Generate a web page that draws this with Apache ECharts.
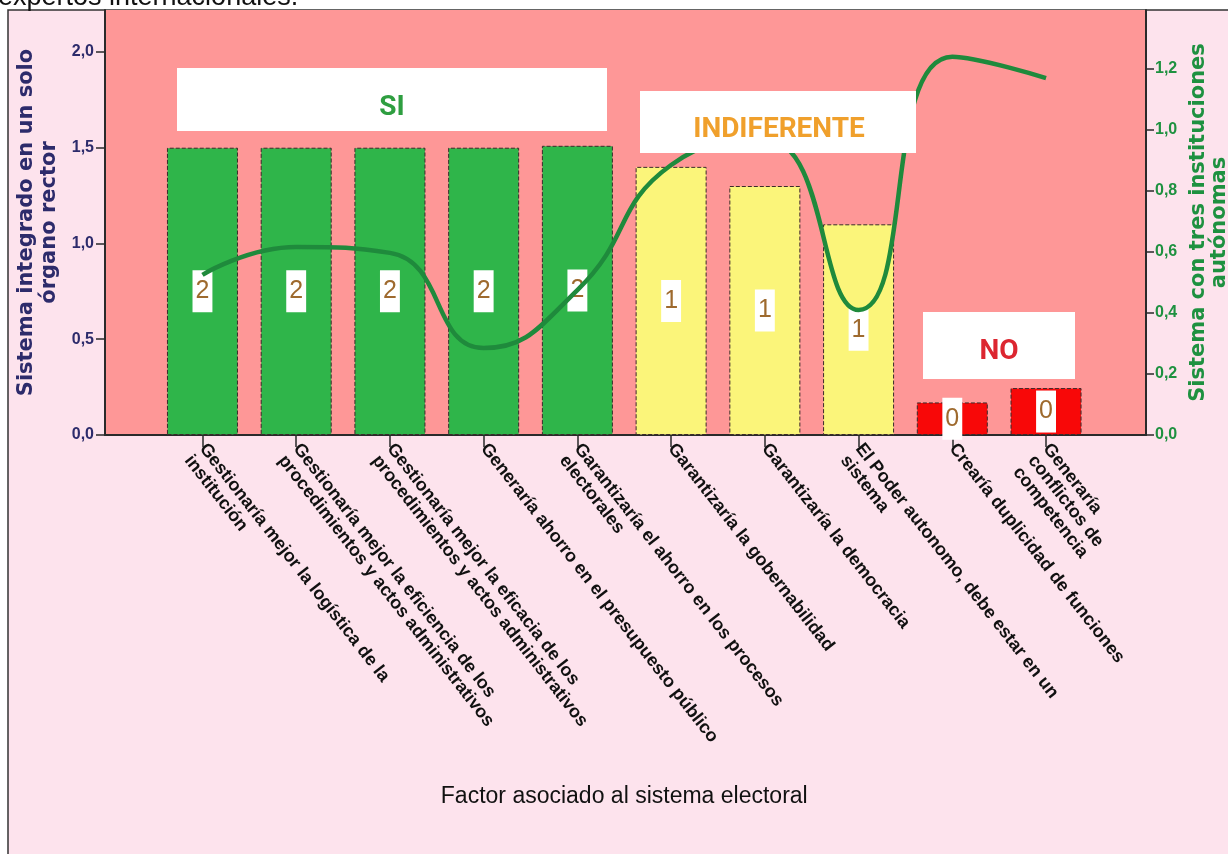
<!DOCTYPE html>
<html>
<head>
<meta charset="utf-8">
<script src="https://cdn.jsdelivr.net/npm/echarts@6/dist/echarts.min.js"></script>
<style>html,body{margin:0;padding:0;background:#fff;overflow:hidden;}#c{width:1228px;height:854px;}</style>
</head>
<body>
<div id="c"></div>
<script>
const categories = [
  "Gestionaría mejor la logística de la\ninstitución",
  "Gestionaría mejor la eficiencia de los\nprocedimientos y actos administrativos",
  "Gestionaría mejor la eficacia de los\nprocedimientos y actos administrativos",
  "Generaría ahorro en el presupuesto público",
  "Garantizaría el ahorro en los procesos\nelectorales",
  "Garantizaría la gobernabilidad",
  "Garantizaría la democracia",
  "El Poder autonomo, debe estar en un\nsistema",
  "Crearía duplicidad de funciones",
  "Generaría\nconflictos de\ncompetencia"
];
const integradoValues = [1.5, 1.5, 1.5, 1.5, 1.51, 1.40, 1.30, 1.10, 0.17, 0.245];
const tresInstValues = [0.525, 0.616, 0.597, 0.285, 0.475, 0.885, 0.97, 0.41, 1.24, 1.17];
const groupCodes = [2, 2, 2, 2, 2, 1, 1, 1, 0, 0];
const groupNames = ["SI", "INDIFERENTE", "NO"];
const leftTicks = [0, 0.5, 1.0, 1.5, 2.0];
const rightTicks = [0, 0.2, 0.4, 0.6, 0.8, 1.0, 1.2];

const groupColors = {2: '#2fb54a', 1: '#fbf57a', 0: '#f80808'};
const fmt = v => v.toFixed(1).replace('.', ',');

const chart = echarts.init(document.getElementById('c'));
const LMAX = 2.219, RMAX = 1.393;

chart.setOption({
  backgroundColor: '#ffffff',
  animation: false,
  grid: [
    {left: 105, right: 82, top: 10, bottom: 419, show: true, backgroundColor: '#fe9797', borderWidth: 0, containLabel: false, outerBoundsMode: 'none'},
    {left: 155.6, right: 135.1, top: 10, bottom: 419, show: false, containLabel: false, outerBoundsMode: 'none'}
  ],
  xAxis: [
    {gridIndex: 0, type: 'value', min: 0, max: 1, axisLine: {show: true, lineStyle: {color: '#2a2a2a', width: 2}},
     axisTick: {show: false}, axisLabel: {show: false}, splitLine: {show: false}},
    {gridIndex: 1, type: 'category', data: categories,
     axisLine: {show: false}, axisTick: {show: true, alignWithLabel: true, length: 12, lineStyle: {color: '#2a2a2a', width: 1.5}},
     axisLabel: {interval: 0, rotate: -52, margin: 11, align: 'left', verticalAlign: 'top', padding: [-10, 0, 0, 0],
       fontFamily: 'Liberation Sans, Arial, sans-serif', fontWeight: 'bold', fontSize: 18, lineHeight: 19, color: '#111'},
     name: 'Factor asociado al sistema electoral', nameLocation: 'middle', nameGap: 350,
     nameTextStyle: {fontFamily: 'Liberation Sans, Arial, sans-serif', fontSize: 23, color: '#111'}}
  ],
  yAxis: [
    {gridIndex: 0, type: 'value', position: 'left', min: 0, max: LMAX, interval: 0.5,
     axisLine: {show: true, lineStyle: {color: '#2a2a2a', width: 2}},
     axisTick: {show: true, length: 9, lineStyle: {color: '#2a2a2a', width: 1.5}},
     axisLabel: {formatter: fmt, showMaxLabel: false, margin: 11, fontFamily: 'Liberation Sans, Arial, sans-serif', fontWeight: 'bold', fontSize: 16, color: '#2d2b6b'},
     splitLine: {show: false},
     name: 'Sistema integrado en un solo\nórgano rector', nameLocation: 'middle', nameRotate: 90, nameGap: 40,
     nameTextStyle: {fontFamily: 'DejaVu Sans, sans-serif', fontWeight: 'bold', fontSize: 21, lineHeight: 23, color: '#2d2b6b'}},
    {gridIndex: 0, type: 'value', position: 'right', min: 0, max: RMAX, interval: 0.2,
     axisLine: {show: true, lineStyle: {color: '#2a2a2a', width: 2}},
     axisTick: {show: true, length: 8, lineStyle: {color: '#2a2a2a', width: 1.5}},
     axisLabel: {formatter: fmt, showMaxLabel: false, margin: 9, fontFamily: 'Liberation Sans, Arial, sans-serif', fontWeight: 'bold', fontSize: 16, color: '#1e9140'},
     splitLine: {show: false},
     name: 'Sistema con tres instituciones\nautónomas', nameLocation: 'middle', nameRotate: 90, nameGap: 41,
     nameTextStyle: {fontFamily: 'DejaVu Sans, sans-serif', fontWeight: 'bold', fontSize: 21, lineHeight: 21, color: '#1e9140'}},
    {gridIndex: 1, type: 'value', min: 0, max: LMAX, show: false},
    {gridIndex: 1, type: 'value', min: 0, max: RMAX, show: false}
  ],
  series: [
    {type: 'bar', xAxisIndex: 1, yAxisIndex: 2, barWidth: 71, z: 2,
     data: integradoValues.map((v, i) => ({value: v, itemStyle: {color: groupColors[groupCodes[i]]}})),
     itemStyle: {borderColor: '#3a2a2a', borderWidth: 1, borderType: 'dashed'},
     label: {show: true, position: 'inside', formatter: p => String(groupCodes[p.dataIndex]),
       backgroundColor: '#ffffff', padding: [8, 3], lineHeight: 26,
       fontFamily: 'Liberation Sans, Arial, sans-serif', fontSize: 25, color: '#9e6a2e'}},
    {type: 'line', xAxisIndex: 1, yAxisIndex: 3, data: tresInstValues, smooth: 0.5, z: 5,
     symbol: 'none', lineStyle: {color: '#1f8a3c', width: 4.5}}
  ],
  graphic: [
    {type: 'rect', z: -10, shape: {x: 8, y: 10, width: 1240, height: 870}, style: {fill: '#fde3ed', stroke: '#333', lineWidth: 1.5}},
    {type: 'text', z: 10, left: -2, top: -16, style: {text: 'expertos internacionales.', font: '27px "Liberation Sans", Arial, sans-serif', fill: '#111'}},
    {type: 'group', z: 100, children: [
      {type: 'rect', z: 100, shape: {x: 177, y: 68, width: 430, height: 63}, style: {fill: '#ffffff'}},
      {type: 'text', z: 101, x: 392, y: 108, style: {text: groupNames[0], font: 'bold 28px Roboto, sans-serif', fill: '#2e9e40', textAlign: 'center', textVerticalAlign: 'middle'}},
      {type: 'rect', z: 100, shape: {x: 640, y: 91, width: 276, height: 62}, style: {fill: '#ffffff'}},
      {type: 'text', z: 101, x: 779, y: 130, style: {text: groupNames[1], font: 'bold 28px Roboto, sans-serif', fill: '#f0a02c', textAlign: 'center', textVerticalAlign: 'middle'}},
      {type: 'rect', z: 100, shape: {x: 923, y: 312, width: 152, height: 67}, style: {fill: '#ffffff'}},
      {type: 'text', z: 101, x: 999, y: 352, style: {text: groupNames[2], font: 'bold 28px Roboto, sans-serif', fill: '#dc2630', textAlign: 'center', textVerticalAlign: 'middle'}}
    ]}
  ]
});
</script>
</body>
</html>
